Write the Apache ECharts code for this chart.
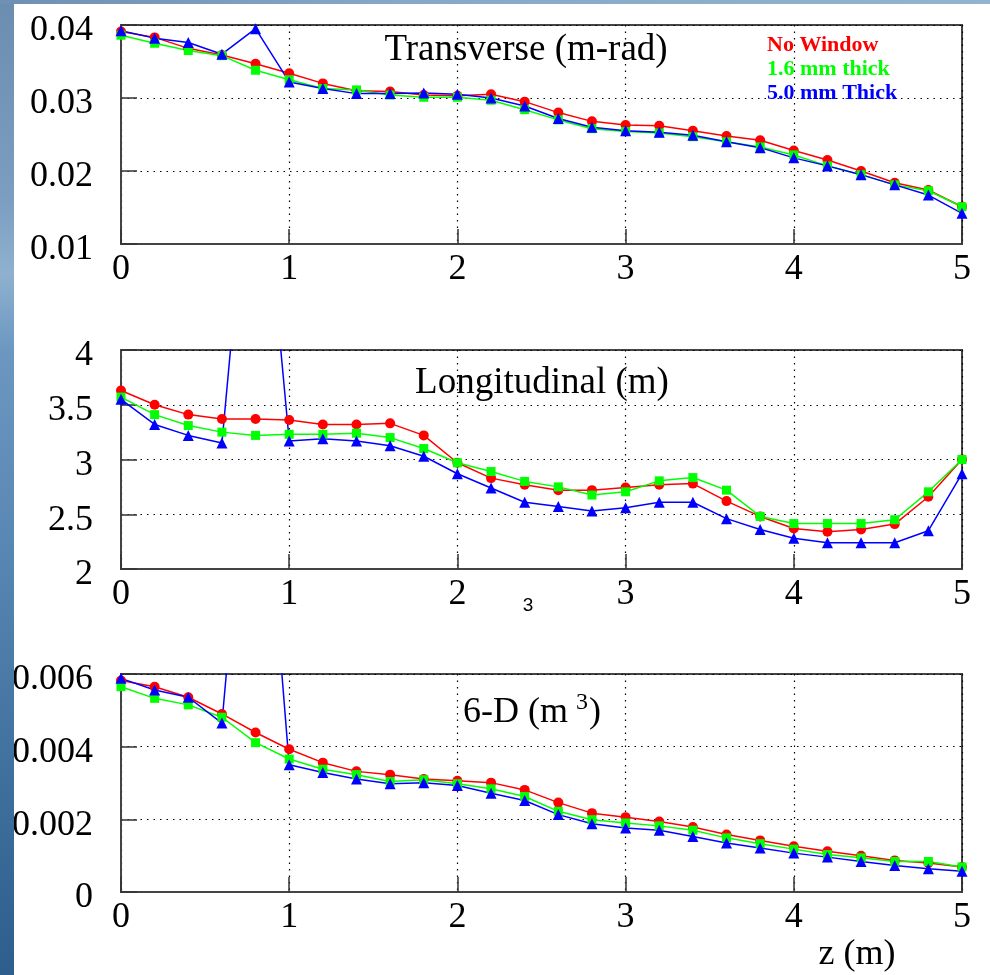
<!DOCTYPE html>
<html>
<head>
<meta charset="utf-8">
<script src="https://cdn.jsdelivr.net/npm/echarts@6/dist/echarts.min.js"></script>
<style>
  body { margin: 0; background: #fff; }
  #wrap { position: relative; width: 990px; height: 975px; overflow: hidden; }
  #mains { position: absolute; left: 0; top: 0; width: 990px; height: 975px; }
  #leftband { position: absolute; left: 0; top: 0; width: 14px; height: 975px; z-index: 2;
    background: linear-gradient(180deg, #6b8db0 0%, #7a9dc0 20%, #8fb1cf 28%, #6b97c0 36%, #5a88b4 55%, #3f6f9d 80%, #2d5e8d 100%); }
  #topband { position: absolute; left: 0; top: 0; width: 990px; height: 4px; z-index: 2;
    background: linear-gradient(90deg, #6f90b2 0%, #86a7c6 40%, #93b3cf 100%); }
</style>
</head>
<body>
<div id="wrap">
  <div id="mains"></div>
  <div id="leftband"></div>
  <div id="topband"></div>
</div>
<script>
// z positions (m)
var zPos = [0, 0.2, 0.4, 0.6, 0.8, 1.0, 1.2, 1.4, 1.6, 1.8, 2.0, 2.2, 2.4, 2.6, 2.8, 3.0, 3.2, 3.4, 3.6, 3.8, 4.0, 4.2, 4.4, 4.6, 4.8, 5.0];

// Transverse emittance (m-rad)
var transNoWin = [0.0391, 0.0383, 0.0368, 0.0359, 0.0347, 0.0334, 0.0320, 0.0310, 0.0309, 0.0304, 0.0303, 0.0305, 0.0295, 0.0280, 0.0268, 0.0263, 0.0262, 0.0255, 0.0248, 0.0242, 0.0228, 0.0215, 0.0200, 0.0184, 0.0174, 0.0151];
var transThin = [0.0386, 0.0375, 0.0365, 0.0358, 0.0338, 0.0325, 0.0313, 0.0311, 0.0304, 0.0301, 0.0301, 0.0297, 0.0284, 0.0270, 0.0258, 0.0254, 0.0252, 0.0247, 0.0240, 0.0233, 0.0222, 0.0207, 0.0195, 0.0181, 0.0173, 0.0151];
var transThick = [0.0392, 0.0382, 0.0376, 0.0360, 0.0395, 0.0322, 0.0313, 0.0306, 0.0306, 0.0307, 0.0305, 0.0300, 0.0289, 0.0272, 0.0260, 0.0255, 0.0253, 0.0249, 0.0240, 0.0232, 0.0218, 0.0207, 0.0195, 0.0181, 0.0167, 0.0142];

// Longitudinal emittance (m)
var longNoWin = [3.63, 3.50, 3.41, 3.37, 3.37, 3.36, 3.32, 3.32, 3.33, 3.22, 2.97, 2.83, 2.77, 2.72, 2.72, 2.745, 2.77, 2.78, 2.62, 2.48, 2.37, 2.34, 2.36, 2.41, 2.66, 3.0];
var longThin = [3.57, 3.41, 3.31, 3.25, 3.22, 3.23, 3.23, 3.24, 3.20, 3.10, 2.97, 2.89, 2.80, 2.75, 2.675, 2.705, 2.805, 2.835, 2.72, 2.48, 2.415, 2.415, 2.415, 2.45, 2.705, 3.0];
var longThick = [3.55, 3.32, 3.22, 3.15, 6.5, 3.17, 3.19, 3.17, 3.125, 3.03, 2.87, 2.74, 2.61, 2.57, 2.53, 2.56, 2.61, 2.61, 2.46, 2.36, 2.28, 2.24, 2.24, 2.24, 2.35, 2.87];

// 6-D emittance (m^3)
var sixNoWin = [0.00582, 0.00565, 0.00536, 0.0049, 0.00439, 0.00393, 0.00356, 0.00332, 0.00323, 0.00311, 0.00306, 0.00301, 0.00281, 0.00246, 0.00217, 0.00206, 0.00194, 0.00179, 0.00158, 0.00142, 0.00126, 0.00112, 0.0010, 0.00087, 0.0008, 0.00069];
var sixThin = [0.00565, 0.00533, 0.00515, 0.00481, 0.00411, 0.00366, 0.00338, 0.00323, 0.00304, 0.00309, 0.00298, 0.00284, 0.00263, 0.00222, 0.00199, 0.0019, 0.00182, 0.0017, 0.00149, 0.00133, 0.00118, 0.00103, 0.00094, 0.00084, 0.00084, 0.00069];
var sixThick = [0.00588, 0.00556, 0.00536, 0.00465, 0.015, 0.0035, 0.00329, 0.00311, 0.00298, 0.00301, 0.00293, 0.00272, 0.00252, 0.00213, 0.00188, 0.00176, 0.0017, 0.00153, 0.00135, 0.00121, 0.00107, 0.00096, 0.00084, 0.00073, 0.00064, 0.00057];

var legendNames = ["No Window", "1.6 mm thick", "5.0 mm Thick"];
var legendColors = ["#ff0000", "#00ff00", "#0000ff"];

var serifFont = "'Liberation Serif', 'Times New Roman', serif";

var myCharts = echarts.init(document.getElementById("mains"));

var pairs = function (vals) {
  return vals.map(function (v, i) { return [zPos[i], v]; });
};

var makeSeries = function (idx, vals, k) {
  var symbols = ["circle", "rect", "triangle"];
  var sizes = [10, 9, 11];
  return {
    name: legendNames[k],
    type: "line",
    xAxisIndex: idx,
    yAxisIndex: idx,
    data: pairs(vals),
    symbol: symbols[k],
    symbolSize: sizes[k],
    showSymbol: true,
    clip: true,
    animation: false,
    lineStyle: { color: legendColors[k], width: 1.5 },
    itemStyle: { color: legendColors[k] },
  };
};

var grids = [
  { left: 121, top: 25, width: 841, height: 219 },
  { left: 121, top: 350, width: 841, height: 219 },
  { left: 121, top: 674, width: 841, height: 218 },
];
grids.forEach(function (g) {
  g.show = true;
  g.backgroundColor = "#fff";
  g.borderColor = "#444";
  g.borderWidth = 2;
});

var dotted = { show: true, lineStyle: { type: [1.5, 5], color: "#000", width: 1.2 } };

var xAxes = [0, 1, 2].map(function (i) {
  return {
    gridIndex: i,
    type: "value",
    min: 0,
    max: 5,
    interval: 1,
    axisLine: { show: true, lineStyle: { color: "#444", width: 2 } },
    axisTick: { show: true, inside: true, length: 15, lineStyle: { color: "#333", width: 1.5 } },
    axisLabel: { color: "#000", fontSize: 36, fontFamily: serifFont, margin: 8, showMinLabel: true, showMaxLabel: true },
    splitLine: dotted,
  };
});

var yRanges = [
  { min: 0.01, max: 0.04, interval: 0.01 },
  { min: 2, max: 4, interval: 0.5 },
  { min: 0, max: 0.006, interval: 0.002 },
];
var yAxes = yRanges.map(function (r, i) {
  return {
    gridIndex: i,
    type: "value",
    min: r.min,
    max: r.max,
    interval: r.interval,
    axisLine: { show: true, lineStyle: { color: "#444", width: 2 } },
    axisTick: { show: true, inside: true, length: 16, lineStyle: { color: "#333", width: 1.5 } },
    axisLabel: {
      margin: 28,
      showMinLabel: true,
      showMaxLabel: true,
      formatter: "{t|{value}}",
      rich: {
        // push the digits a little below the tick, as in the original
        t: { color: "#000", fontSize: 36, fontFamily: serifFont, padding: [12, 0, 0, 0] },
      },
    },
    splitLine: dotted,
  };
});

var series = [
  makeSeries(0, transNoWin, 0),
  makeSeries(0, transThin, 1),
  makeSeries(0, transThick, 2),
  makeSeries(1, longNoWin, 0),
  makeSeries(1, longThin, 1),
  makeSeries(1, longThick, 2),
  makeSeries(2, sixNoWin, 0),
  makeSeries(2, sixThin, 1),
  makeSeries(2, sixThick, 2),
];

var textEl = function (txt, x, y, size, opts) {
  opts = opts || {};
  return {
    type: "text",
    z: 100,
    style: {
      text: txt,
      x: x,
      y: y,
      fill: opts.color || "#000",
      font: (opts.bold ? "bold " : "") + size + "px " + (opts.family || serifFont),
      align: opts.align || "left",
      verticalAlign: "middle",
    },
  };
};

var graphics = [
  textEl("Transverse (m-rad)", 526, 50, 37, { align: "center" }),
  textEl("Longitudinal (m)", 542, 383, 37, { align: "center" }),
  textEl("6-D (m", 463, 713, 36),
  textEl("3", 576, 703, 24),
  textEl(")", 589, 713, 36),
  textEl("z (m)", 857, 955, 36, { align: "center" }),
  textEl("3", 528, 606, 19, { align: "center", family: "'Liberation Sans', Arial, sans-serif" }),
  textEl(legendNames[0], 767, 45, 22, { bold: true, color: legendColors[0] }),
  textEl(legendNames[1], 767, 69, 22, { bold: true, color: legendColors[1] }),
  textEl(legendNames[2], 767, 93, 22, { bold: true, color: legendColors[2] }),
];

option = {
  backgroundColor: "transparent",
  animation: false,
  grid: grids,
  xAxis: xAxes,
  yAxis: yAxes,
  series: series,
  graphic: { elements: graphics },
};
myCharts.setOption(option);
</script>
</body>
</html>
